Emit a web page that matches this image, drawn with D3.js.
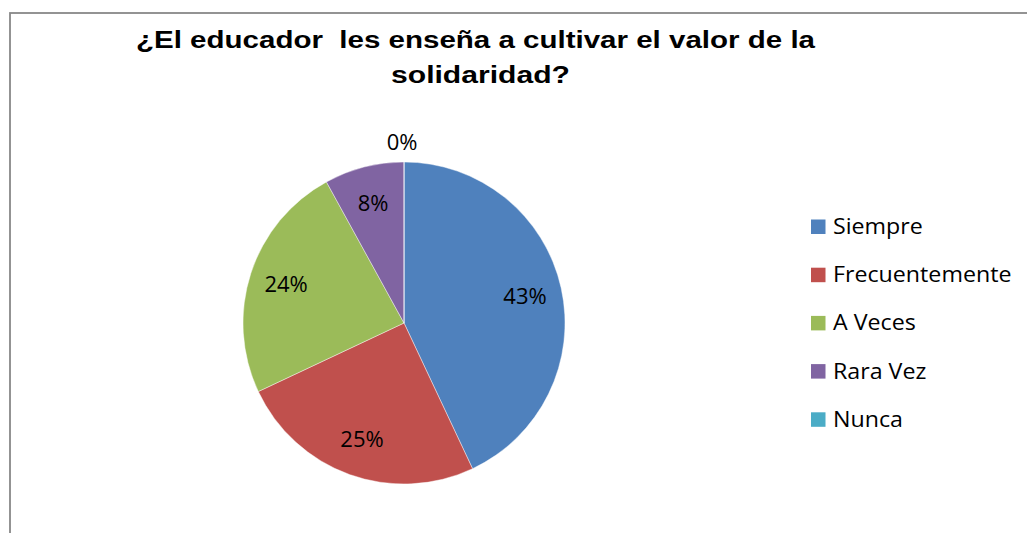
<!DOCTYPE html>
<html><head><meta charset="utf-8">
<script src="https://cdn.jsdelivr.net/npm/d3@7"></script>
<style>body{margin:0;background:#fff}svg{display:block}</style>
</head><body>
<svg id="c" width="1027" height="533"></svg>
<script>
const titleLines = ["¿El educador  les enseña a cultivar el valor de la", "solidaridad?"];
const categories = ["Siempre", "Frecuentemente", "A Veces", "Rara Vez", "Nunca"];
const values = [43, 25, 24, 8, 0];
const colors = ["#4F81BD", "#C0504D", "#9BBB59", "#8064A2", "#4BACC6"];

const svg = d3.select("#c");
svg.append("rect").attr("x", 10).attr("y", 13).attr("width", 1030).attr("height", 540)
  .attr("fill", "#fff").attr("stroke", "#888").attr("stroke-width", 1.8);

// title (stretched horizontally like the reference)
const titleLayout = [
  {x: 136, y: 48, w: 679},
  {x: 391, y: 83, w: 179}
];
svg.append("g").selectAll("text").data(titleLines).join("text")
  .attr("x", (d, i) => titleLayout[i].x).attr("y", (d, i) => titleLayout[i].y)
  .attr("xml:space", "preserve").style("white-space", "pre")
  .attr("textLength", (d, i) => titleLayout[i].w).attr("lengthAdjust", "spacingAndGlyphs")
  .style("font-family", "Liberation Sans, Arial, sans-serif").style("font-weight", "bold")
  .style("font-size", "23px").attr("fill", "#000").text(d => d);

const cx = 404, cy = 323, r = 161;
const pie = d3.pie().sort(null).value(d => d)(values);
const arc = d3.arc().innerRadius(0).outerRadius(r);
const g = svg.append("g").attr("transform", `translate(${cx},${cy})`);
g.selectAll("path").data(pie).join("path")
  .attr("d", arc).attr("fill", (d, i) => colors[i])
  .attr("stroke", "#fff").attr("stroke-width", 0.6).attr("stroke-opacity", 0.7);

const fontBody = "Open Sans, Lato, sans-serif";
const labelArc = d3.arc().innerRadius(r * 0.77).outerRadius(r * 0.77);
g.selectAll("text.lbl").data(pie).join("text").attr("class", "lbl")
  .attr("transform", d => {
    if (d.data === 0) return `translate(-2,${-r - 12})`;
    const c = labelArc.centroid(d);
    return `translate(${c[0]},${c[1]})`;
  })
  .attr("text-anchor", "middle").attr("dy", d => d.data === 0 ? 0 : "0.35em")
  .style("font-family", fontBody).style("font-size", "22px").attr("fill", "#000")
  .text(d => d.data + "%");

const ly = d3.scalePoint().domain(categories).range([234, 426.8]);
const items = svg.append("g").selectAll("g").data(categories).join("g")
  .attr("transform", d => `translate(811,${ly(d)})`);
items.append("rect").attr("x", 0).attr("y", -14.5).attr("width", 14.5).attr("height", 14.5)
  .attr("fill", (d, i) => colors[i]);
items.append("text").attr("transform", "translate(22,0) scale(1.055,1)")
  .style("font-family", fontBody).style("font-size", "22px").attr("fill", "#000").text(d => d);
</script>
</body></html>
